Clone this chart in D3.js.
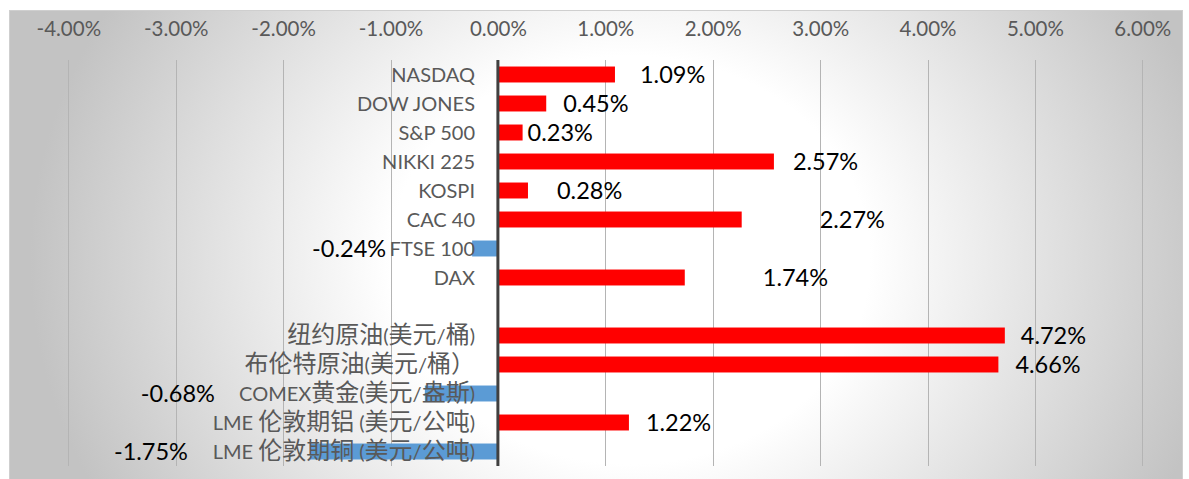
<!DOCTYPE html>
<html>
<head>
<meta charset="utf-8">
<script src="https://cdn.jsdelivr.net/npm/d3@7"></script>
<style>
  body { margin: 0; background: #fff; }
  text { font-family: "Lato", "Noto Sans CJK SC", sans-serif; }
</style>
</head>
<body>
<div id="chart"></div>
<script>
const categories = [
  "NASDAQ", "DOW JONES", "S&P 500", "NIKKI 225", "KOSPI", "CAC 40", "FTSE 100", "DAX", "",
  "纽约原油(美元/桶)", "布伦特原油(美元/桶）", "COMEX黄金(美元/盎斯)",
  "LME 伦敦期铝 (美元/公吨)", "LME 伦敦期铜 (美元/公吨)"
];
const values = [1.09, 0.45, 0.23, 2.57, 0.28, 2.27, -0.24, 1.74, null, 4.72, 4.66, -0.68, 1.22, -1.75];
const tickValues = [-4, -3, -2, -1, 0, 1, 2, 3, 4, 5, 6];
// data labels were dragged by hand in the original, px nudge from bar end
const labelShift = [25, 17, 5, 19, 29, 78, -86, 78, null, 16, 17, -210, 17, -122];

const W = 1189, H = 479;
const plotTop = 60, plotBottom = 466;

const svg = d3.select("#chart").append("svg")
  .attr("width", W)
  .attr("height", H);

// background gradient
const defs = svg.append("defs");
const grad = defs.append("radialGradient")
  .attr("id", "bg")
  .attr("gradientUnits", "userSpaceOnUse")
  .attr("cx", 630).attr("cy", 260).attr("r", 600)
  .attr("gradientTransform", "translate(630,260) scale(1,0.85) translate(-630,-260)");
grad.append("stop").attr("offset", "0").attr("stop-color", "#ffffff");
grad.append("stop").attr("offset", "0.4").attr("stop-color", "#ffffff");
grad.append("stop").attr("offset", "1").attr("stop-color", "#c3c3c3");

svg.append("rect")
  .attr("x", 9.5).attr("y", 10.5)
  .attr("width", 1173).attr("height", 470)
  .attr("fill", "url(#bg)")
  .attr("stroke", "#cfcfcf");

const x = d3.scaleLinear().domain([-4, 6]).range([68.3, 1142.3]);
const y = d3.scaleBand()
  .domain(categories)
  .range([plotTop, plotBottom])
  .paddingInner(0.45)
  .paddingOuter(0.225);

// gridlines
svg.append("g").selectAll("line")
  .data(tickValues.filter(d => d !== 0))
  .enter().append("line")
  .attr("x1", d => Math.round(x(d)) + 0.5)
  .attr("x2", d => Math.round(x(d)) + 0.5)
  .attr("y1", plotTop).attr("y2", plotBottom)
  .attr("stroke", "#b4b4b4")
  .attr("stroke-width", 1);

// top tick labels
const xAxis = svg.append("g")
  .attr("transform", "translate(0,36)")
  .call(d3.axisTop(x).tickValues(tickValues).tickSize(0).tickPadding(0)
    .tickFormat(d => d.toFixed(2) + "%"));
xAxis.select(".domain").remove();
xAxis.selectAll("text")
  .attr("fill", "#595959")
  .style("font-size", "20.5px");

// bars
const rows = categories.map((c, i) => ({ cat: c, v: values[i], shift: labelShift[i] }))
  .filter(d => d.v !== null);

svg.append("g").selectAll("rect")
  .data(rows)
  .enter().append("rect")
  .attr("x", d => x(Math.min(0, d.v)))
  .attr("y", d => y(d.cat))
  .attr("width", d => Math.abs(x(d.v) - x(0)))
  .attr("height", y.bandwidth())
  .attr("fill", d => d.v >= 0 ? "#ff0000" : "#5b9bd5");

// category labels, CJK runs a bit bigger like the original fallback font
const cjk = /([\u2e80-\u9fff\uff00-\uffef]+)/;
const catLabels = svg.append("g").selectAll("text")
  .data(categories.filter(c => c !== ""))
  .enter().append("text")
  .attr("x", 475)
  .attr("y", d => y(d) + y.bandwidth() / 2 + 7)
  .attr("text-anchor", "end")
  .attr("fill", "#595959")
  .style("font-size", "20px");

catLabels.each(function(d) {
  const t = d3.select(this);
  d.split(cjk).filter(s => s.length).forEach(s => {
    t.append("tspan")
      .style("font-size", cjk.test(s) ? "24px" : "20px")
      .text(s);
  });
});

// zero axis line
svg.append("line")
  .attr("x1", x(0)).attr("x2", x(0))
  .attr("y1", plotTop).attr("y2", plotBottom)
  .attr("stroke", "#404040")
  .attr("stroke-width", 3);

// data labels
svg.append("g").selectAll("text")
  .data(rows)
  .enter().append("text")
  .attr("x", d => x(d.v) + d.shift)
  .attr("y", d => y(d.cat) + y.bandwidth() / 2 + 8.5)
  .attr("text-anchor", d => d.v >= 0 ? "start" : "end")
  .attr("fill", "#000")
  .style("font-size", "23.5px")
  .text(d => d.v.toFixed(2) + "%");
</script>
</body>
</html>
